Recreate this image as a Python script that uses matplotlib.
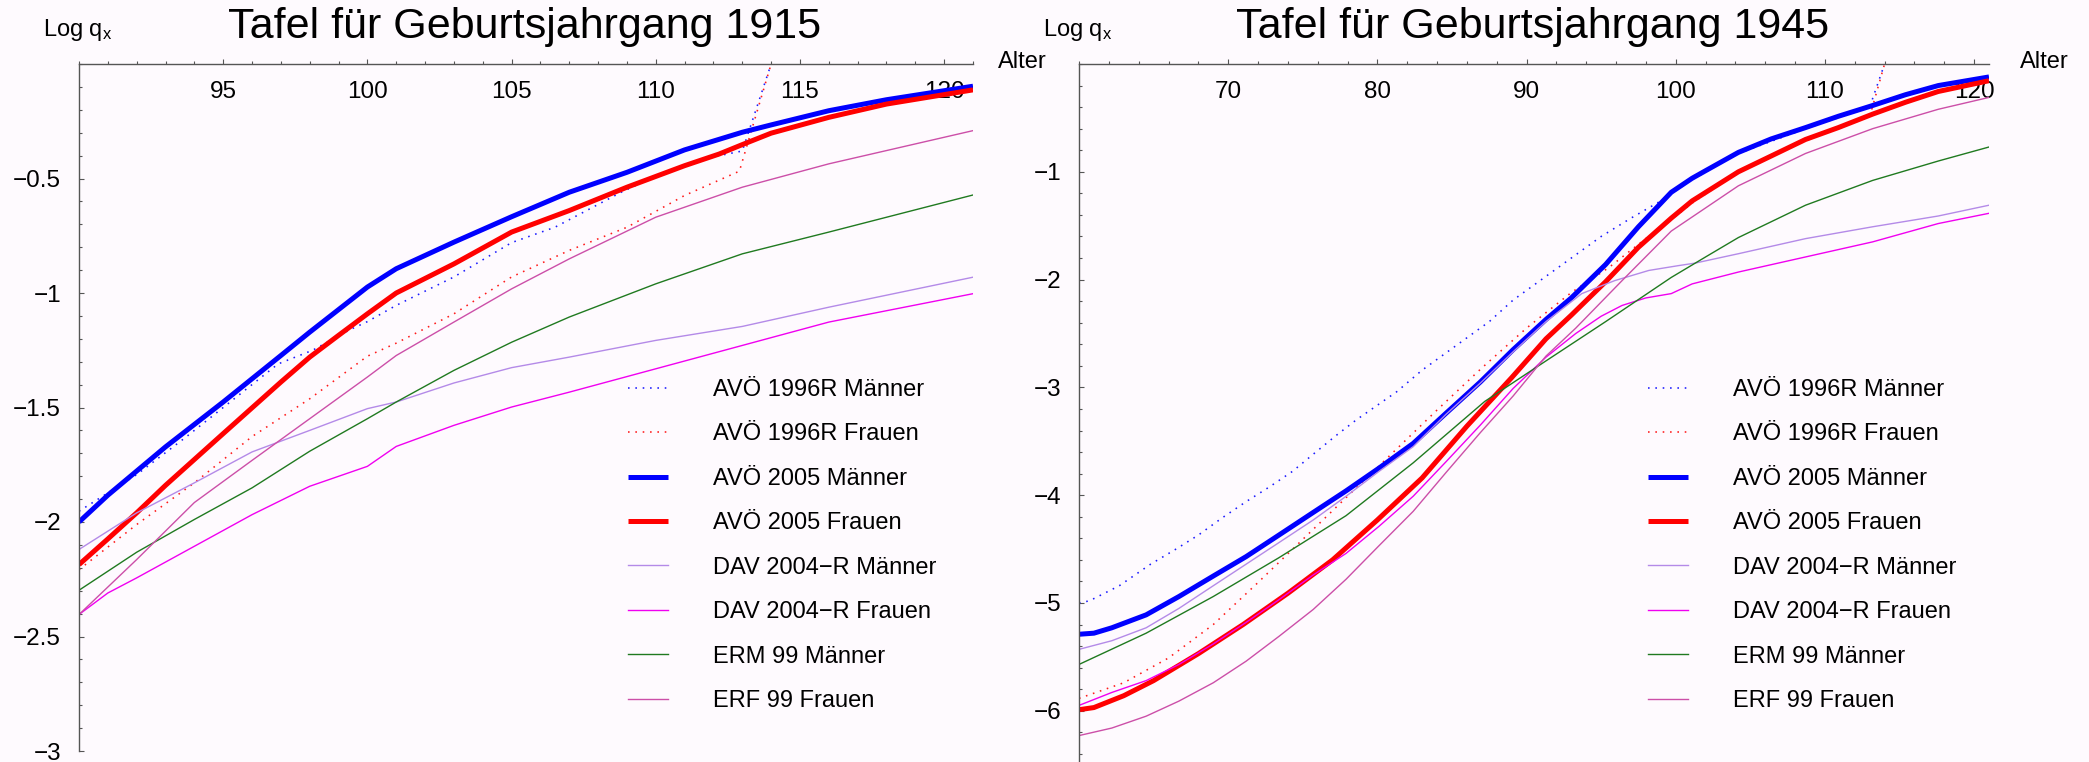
import matplotlib
matplotlib.use("Agg")
import matplotlib.pyplot as plt
from matplotlib.ticker import FixedLocator, FixedFormatter, MultipleLocator

plt.rcParams['font.family'] = ['Liberation Sans', 'DejaVu Sans']
plt.rcParams['mathtext.fontset'] = 'custom'
plt.rcParams['mathtext.rm'] = 'Liberation Sans'
plt.rcParams['mathtext.it'] = 'Liberation Sans'

# ---------------- data ----------------
SERIES = ["AVÖ 1996R Männer", "AVÖ 1996R Frauen", "AVÖ 2005 Männer", "AVÖ 2005 Frauen",
          "DAV 2004\u2212R Männer", "DAV 2004\u2212R Frauen", "ERM 99 Männer", "ERF 99 Frauen"]
TITLES = ["Tafel für Geburtsjahrgang 1915", "Tafel für Geburtsjahrgang 1945"]

# Left panel: birth cohort 1915 (log10 q_x by age)
L_AVO96_M_AGE = [90, 92, 93.7, 96.9, 98.1, 99.4, 100, 101, 103, 105, 106.5, 107.6, 108.8, 110, 112, 113, 114]
L_AVO96_M = [-1.953, -1.793, -1.63, -1.31, -1.25, -1.16, -1.125, -1.054, -0.93, -0.78, -0.713, -0.64, -0.56, -0.49, -0.405, -0.38, 0.0]
L_AVO96_F_AGE = [90, 92, 94, 96, 98, 100, 101, 103, 105, 107, 109, 111, 112.9, 114]
L_AVO96_F = [-2.208, -2.011, -1.829, -1.627, -1.462, -1.276, -1.219, -1.091, -0.93, -0.814, -0.713, -0.574, -0.468, 0.0]
L_AVO05_M_AGE = [90, 91, 93, 95, 97, 98, 100, 101, 103, 105, 107, 109, 111, 113, 114, 116, 118, 121]
L_AVO05_M = [-2.0, -1.883, -1.672, -1.476, -1.273, -1.171, -0.974, -0.894, -0.778, -0.667, -0.56, -0.473, -0.375, -0.298, -0.266, -0.204, -0.156, -0.097]
L_AVO05_F_AGE = [90, 91, 92, 93, 95, 97, 98, 99, 100, 101, 103, 105, 107, 109, 111, 112.2, 113, 114, 116, 118, 121]
L_AVO05_F = [-2.186, -2.074, -1.96, -1.84, -1.614, -1.389, -1.28, -1.185, -1.091, -1.0, -0.873, -0.734, -0.64, -0.538, -0.444, -0.393, -0.352, -0.302, -0.233, -0.175, -0.113]
L_DAV_M_AGE = [90, 91, 92, 94, 96, 98, 100, 101, 103, 105, 107, 110, 113, 116, 121]
L_DAV_M = [-2.12, -2.04, -1.96, -1.829, -1.694, -1.6, -1.505, -1.476, -1.393, -1.326, -1.28, -1.207, -1.146, -1.062, -0.931]
L_DAV_F_AGE = [90, 91, 92, 94, 96, 98, 100, 101, 103, 105, 107, 110, 113, 116, 121]
L_DAV_F = [-2.404, -2.31, -2.244, -2.106, -1.968, -1.844, -1.757, -1.67, -1.578, -1.498, -1.433, -1.331, -1.229, -1.127, -1.003]
L_ERM_AGE = [90, 92, 94, 96, 98, 100, 101, 103, 105, 107, 110, 113, 116, 121]
L_ERM = [-2.298, -2.132, -1.989, -1.851, -1.691, -1.549, -1.476, -1.338, -1.215, -1.105, -0.96, -0.829, -0.734, -0.572]
L_ERF_AGE = [90, 92, 94, 96, 98, 100, 101, 103, 105, 107, 110, 113, 116, 121]
L_ERF = [-2.404, -2.164, -1.915, -1.731, -1.549, -1.367, -1.273, -1.127, -0.982, -0.851, -0.669, -0.538, -0.436, -0.291]

# Right panel: birth cohort 1945
R_AVO96_M_AGE = [60, 60.7, 62.7, 64.8, 66.5, 68, 69.6, 71.2, 72.8, 74.3, 75.7, 77.2, 78.6, 81.3, 83, 84.6, 86, 87.5, 89.1, 92, 95, 97, 99, 101, 104.2, 108.7, 113, 114]
R_AVO96_M = [-5.0, -4.98, -4.84, -4.64, -4.50, -4.37, -4.21, -4.06, -3.92, -3.78, -3.62, -3.45, -3.30, -3.04, -2.84, -2.68, -2.54, -2.39, -2.19, -1.9, -1.6, -1.43, -1.27, -1.08, -0.83, -0.6, -0.40, 0.0]
R_AVO96_F_AGE = [60, 63, 66, 69, 72, 75, 78, 81, 84, 87, 90, 93, 95.5, 97.8, 100.2, 101, 104, 107, 110, 113, 114]
R_AVO96_F = [-5.885, -5.74, -5.51, -5.2, -4.81, -4.41, -4.01, -3.61, -3.21, -2.82, -2.45, -2.12, -1.89, -1.64, -1.39, -1.30, -1.02, -0.81, -0.64, -0.49, 0.0]
R_AVO05_M_AGE = [60, 61, 62.2, 64.5, 66.7, 69, 71.2, 73.4, 75.7, 77.9, 80.1, 82.4, 84.6, 86.9, 89.1, 91.3, 93, 95.3, 97.5, 99.7, 101.1, 102, 104.2, 106.4, 108.7, 110.9, 113.2, 115.4, 117.6, 121]
R_AVO05_M = [-5.29, -5.28, -5.23, -5.11, -4.94, -4.75, -4.57, -4.37, -4.16, -3.96, -3.75, -3.52, -3.24, -2.95, -2.65, -2.37, -2.17, -1.86, -1.51, -1.19, -1.06, -0.99, -0.82, -0.695, -0.59, -0.485, -0.385, -0.285, -0.2, -0.12]
R_AVO05_F_AGE = [60, 61, 63, 65, 68, 71, 74, 77, 80, 83, 86, 89, 91.3, 93, 95.3, 97.5, 99.7, 101.1, 104.2, 108.7, 110.9, 113.2, 115.4, 117.6, 121]
R_AVO05_F = [-5.99, -5.97, -5.86, -5.72, -5.47, -5.20, -4.91, -4.60, -4.23, -3.84, -3.36, -2.91, -2.55, -2.33, -2.02, -1.70, -1.43, -1.27, -1.0, -0.70, -0.59, -0.465, -0.355, -0.255, -0.155]
R_DAV_M_AGE = [60, 62.2, 64.5, 66.7, 69, 71.2, 73.4, 75.7, 77.9, 80.1, 82.4, 84.6, 86.9, 89.1, 91.3, 93.7, 95.9, 98.2, 100.2, 101.3, 104.2, 108.7, 113.2, 117.6, 121]
R_DAV_M = [-5.43, -5.35, -5.23, -5.05, -4.84, -4.64, -4.44, -4.23, -4.01, -3.78, -3.55, -3.25, -2.96, -2.67, -2.39, -2.13, -2.01, -1.915, -1.87, -1.847, -1.76, -1.62, -1.51, -1.41, -1.31]
R_DAV_F_AGE = [60, 62.2, 64.5, 66.7, 69, 71.2, 73.4, 75.7, 77.9, 80.1, 82.4, 84.6, 86.9, 89.1, 91.3, 93.3, 95, 96.4, 98, 99.7, 101.1, 104.2, 108.7, 113.2, 117.6, 121]
R_DAV_F = [-5.95, -5.83, -5.72, -5.57, -5.38, -5.18, -4.97, -4.74, -4.54, -4.29, -4.01, -3.69, -3.35, -3.01, -2.72, -2.50, -2.34, -2.24, -2.17, -2.13, -2.04, -1.93, -1.79, -1.65, -1.48, -1.385]
R_ERM_AGE = [60, 64.5, 69, 73.4, 77.9, 82.4, 87.2, 90.8, 95.3, 99.7, 102, 104.2, 108.7, 113.2, 117.6, 121]
R_ERM = [-5.57, -5.28, -4.94, -4.58, -4.19, -3.70, -3.13, -2.80, -2.39, -1.98, -1.79, -1.61, -1.31, -1.08, -0.90, -0.77]
R_ERF_AGE = [60, 62.2, 64.5, 66.7, 69, 71.2, 73.4, 75.7, 77.9, 80.1, 82.4, 84.6, 86.9, 89.1, 91.3, 93.3, 96.4, 99.7, 104.2, 108.7, 113.2, 117.6, 121]
R_ERF = [-6.23, -6.16, -6.05, -5.91, -5.74, -5.54, -5.31, -5.06, -4.78, -4.47, -4.15, -3.79, -3.42, -3.08, -2.71, -2.45, -2.01, -1.55, -1.13, -0.83, -0.60, -0.42, -0.31]

L_XTICKS = [95, 100, 105, 110, 115, 120]
L_YTICKS = [-0.5, -1, -1.5, -2, -2.5, -3]
L_YTICK_LABELS = ["\u22120.5", "\u22121", "\u22121.5", "\u22122", "\u22122.5", "\u22123"]
R_XTICKS = [70, 80, 90, 100, 110, 120]
R_YTICKS = [-1, -2, -3, -4, -5, -6]
R_YTICK_LABELS = ["\u22121", "\u22122", "\u22123", "\u22124", "\u22125", "\u22126"]

# ---------------- style ----------------
BG = '#fefafe'
AX_COLOR = '#555555'
DOT = (0, (1, 3.6))
STYLES = [
    dict(color='#1a1aff', lw=1.15, ls=DOT),
    dict(color='#ff1a1a', lw=1.15, ls=DOT),
    dict(color='#0000ff', lw=3.6, ls='-', solid_capstyle='butt'),
    dict(color='#ff0000', lw=3.6, ls='-', solid_capstyle='butt'),
    dict(color='#b48ae8', lw=1.0, ls='-'),
    dict(color='#f000f0', lw=1.0, ls='-'),
    dict(color='#207a20', lw=1.0, ls='-'),
    dict(color='#cc4fa8', lw=1.0, ls='-'),
]

W, H = 2089, 762
PT = 72.0 / 100.0  # points per pixel


def rect(x0, x1, ytop, ybot):
    return [x0 / W, 1 - ybot / H, (x1 - x0) / W, (ybot - ytop) / H]


fig = plt.figure(figsize=(W / 100, H / 100), dpi=100, facecolor=BG)

panels = [
    dict(rect=rect(79, 973, 64, 751), xlim=(90, 121), ylim=(-3, 0),
         series=[(L_AVO96_M_AGE, L_AVO96_M), (L_AVO96_F_AGE, L_AVO96_F),
                 (L_AVO05_M_AGE, L_AVO05_M), (L_AVO05_F_AGE, L_AVO05_F),
                 (L_DAV_M_AGE, L_DAV_M), (L_DAV_F_AGE, L_DAV_F),
                 (L_ERM_AGE, L_ERM), (L_ERF_AGE, L_ERF)],
         xt=L_XTICKS, xminor=1, yt=L_YTICKS, ytl=L_YTICK_LABELS, yminor=0.1,
         title=TITLES[0], title_x=525, logq_x=43, alter_x=998, leg_x=628),
    dict(rect=rect(1079, 1989, 64, 762), xlim=(60, 121), ylim=(-6.475, 0),
         series=[(R_AVO96_M_AGE, R_AVO96_M), (R_AVO96_F_AGE, R_AVO96_F),
                 (R_AVO05_M_AGE, R_AVO05_M), (R_AVO05_F_AGE, R_AVO05_F),
                 (R_DAV_M_AGE, R_DAV_M), (R_DAV_F_AGE, R_DAV_F),
                 (R_ERM_AGE, R_ERM), (R_ERF_AGE, R_ERF)],
         xt=R_XTICKS, xminor=2, yt=R_YTICKS, ytl=R_YTICK_LABELS, yminor=0.2,
         title=TITLES[1], title_x=1533, logq_x=1043, alter_x=2020, leg_x=1648),
]

for p in panels:
    ax = fig.add_axes(p['rect'])
    ax.set_facecolor(BG)
    lines = []
    for (xs, ys), st, lab in zip(p['series'], STYLES, SERIES):
        ln, = ax.plot(xs, ys, label=lab, **st)
        lines.append(ln)
    ax.set_xlim(*p['xlim'])
    ax.set_ylim(*p['ylim'])
    for s in ('top', 'right'):
        ax.spines[s].set_visible(False)
    ax.spines['bottom'].set_position(('data', 0))
    for s in ('bottom', 'left'):
        ax.spines[s].set_color(AX_COLOR)
        ax.spines[s].set_linewidth(1.0)
    ax.xaxis.set_ticks_position('bottom')
    ax.yaxis.set_ticks_position('left')
    ax.xaxis.set_major_locator(FixedLocator(p['xt']))
    ax.xaxis.set_minor_locator(MultipleLocator(p['xminor']))
    ax.yaxis.set_major_locator(FixedLocator(p['yt']))
    ax.yaxis.set_major_formatter(FixedFormatter(p['ytl']))
    ax.yaxis.set_minor_locator(MultipleLocator(p['yminor']))
    ax.tick_params(which='major', direction='in', length=5 * PT, width=0.8,
                   color=AX_COLOR, labelsize=17.5, labelcolor='black')
    ax.tick_params(which='minor', direction='in', length=3 * PT, width=0.8, color=AX_COLOR)
    ax.tick_params(axis='x', which='major', pad=12)
    ax.tick_params(axis='y', which='major', pad=13)

    fig.text(p['title_x'] / W, 1 - 27 / H, p['title'], ha='center', va='center', fontsize=31)
    fig.text(p['logq_x'] / W, 1 - 30 / H, r'Log q$_\mathrm{x}$', ha='left', va='center', fontsize=17)
    fig.text(p['alter_x'] / W, 1 - 62 / H, 'Alter', ha='left', va='center', fontsize=17)

    ax.legend(handles=lines, loc='upper left',
              bbox_to_anchor=(p['leg_x'] / W, 1 - 379 / H), bbox_transform=fig.transFigure,
              frameon=False, fontsize=17, borderpad=0, borderaxespad=0,
              handlelength=1.7, handletextpad=1.9, labelspacing=0.95)

fig.savefig('out.png', dpi=100, facecolor=BG)
